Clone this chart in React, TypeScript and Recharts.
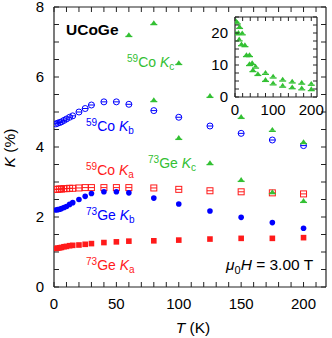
import React from 'react';
import { ScatterChart, Scatter, XAxis, YAxis } from 'recharts';

// ---------- data ----------
const T_LOW = [1.5, 3, 4.5, 6, 8, 10, 12.5, 15, 20, 25, 30, 40, 50, 60, 80, 100, 125, 150, 175, 200];
const CO59_KB = [4.66, 4.68, 4.7, 4.72, 4.76, 4.8, 4.85, 4.89, 5.0, 5.1, 5.2, 5.29, 5.29, 5.22, 5.04, 4.85, 4.6, 4.39, 4.2, 4.04];
const GE73_KB = [2.2, 2.21, 2.22, 2.24, 2.27, 2.3, 2.36, 2.41, 2.5, 2.59, 2.67, 2.72, 2.72, 2.69, 2.54, 2.37, 2.17, 1.99, 1.84, 1.68];
const CO59_KA = [2.79, 2.79, 2.8, 2.8, 2.81, 2.81, 2.82, 2.82, 2.83, 2.84, 2.84, 2.84, 2.84, 2.84, 2.83, 2.79, 2.75, 2.72, 2.69, 2.66];
const GE73_KA = [1.1, 1.11, 1.12, 1.13, 1.15, 1.16, 1.18, 1.19, 1.2, 1.22, 1.24, 1.27, 1.29, 1.31, 1.32, 1.34, 1.37, 1.39, 1.39, 1.41];

const T_CO_KC = [80, 100, 125, 150, 175, 200];
const CO59_KC = [7.54, 6.4, 5.46, 4.86, 4.49, 4.14];
const T_GE_KC = [60, 80, 100, 125, 150, 175, 200];
const GE73_KC = [7.2, 5.34, 4.26, 3.54, 3.06, 2.71, 2.46];

// inset (full range of K_c)
const T_INSET_CO = [2, 6, 12, 19, 26, 38, 45, 54, 80, 100, 125, 150, 175, 200];
const INSET_CO59_KC = [23.8, 23.3, 21.9, 19.9, 16.2, 13.1, 10.6, 9.5, 7.54, 6.4, 5.46, 4.86, 4.49, 4.14];
const T_INSET_GE = [2, 9, 11, 17, 30, 38, 47, 60, 80, 100, 125, 150, 175, 200];
const INSET_GE73_KC = [19.9, 20.1, 18.0, 16.5, 13.1, 10.3, 8.4, 7.2, 5.34, 4.26, 3.54, 3.06, 2.71, 2.46];

// ticks
const X_TICKS = Array.from({ length: 22 }, (_, i) => i * 10);
const X_LABELS = [0, 50, 100, 150, 200];
const Y_TICKS = Array.from({ length: 17 }, (_, i) => i * 0.5);
const Y_LABELS = [0, 2, 4, 6, 8];
const IX_TICKS = Array.from({ length: 11 }, (_, i) => i * 20);
const IX_LABELS = [0, 100, 200];
const IY_TICKS = Array.from({ length: 11 }, (_, i) => i * 2.5);
const IY_LABELS = [0, 10, 20];

// ---------- styles ----------
const GREEN = '#33c033';
const BLUE = '#0000ff';
const RED = '#ff1a1a';
const AXIS = '#222';
const FONT = '"Liberation Sans", Arial, Helvetica, sans-serif';

const pts = (xs: number[], ys: number[]) => xs.map((x, i) => ({ x, y: ys[i] }));

// ---------- marker shapes ----------
const OpenCircleBar = (p: any) => (
  <g>
    <circle cx={p.cx} cy={p.cy} r={3} fill="none" stroke={BLUE} strokeWidth={1} />
    <line x1={p.cx - 3} x2={p.cx + 3} y1={p.cy} y2={p.cy} stroke={BLUE} strokeWidth={1} />
  </g>
);
const FilledCircle = (p: any) => <circle cx={p.cx} cy={p.cy} r={2.8} fill={BLUE} />;
const OpenSquareBar = (p: any) => (
  <g>
    <rect x={p.cx - 3} y={p.cy - 3} width={6} height={6} fill="none" stroke={RED} strokeWidth={1} />
    <line x1={p.cx - 3} x2={p.cx + 3} y1={p.cy} y2={p.cy} stroke={RED} strokeWidth={1} />
  </g>
);
const FilledSquare = (p: any) => <rect x={p.cx - 2.8} y={p.cy - 2.8} width={5.6} height={5.6} fill={RED} />;
const TriBar = (p: any) => (
  <g>
    <path d={`M${p.cx - 2.6},${p.cy + 1} L${p.cx + 2.6},${p.cy + 1} L${p.cx},${p.cy - 2.8} Z`} fill={GREEN} />
    <line x1={p.cx - 3.5} x2={p.cx + 3.5} y1={p.cy + 1.5} y2={p.cy + 1.5} stroke={GREEN} strokeWidth={1.3} />
  </g>
);

// ---------- tick renderers ----------
const mkBottom = (labels: number[], len: number, dy: number, fs: number) => (p: any) => {
  const v = p.payload.value;
  return (
    <g>
      <line x1={p.x} x2={p.x} y1={p.y} y2={p.y - len} stroke={AXIS} strokeWidth={1} />
      {labels.includes(v) && (
        <text x={p.x} y={p.y + dy} textAnchor="middle" fontFamily={FONT} fontSize={fs} fill="#000">{v}</text>
      )}
    </g>
  );
};
const mkTop = (len: number) => (p: any) => (
  <line x1={p.x} x2={p.x} y1={p.y} y2={p.y + len} stroke={AXIS} strokeWidth={1} />
);
const mkLeft = (labels: number[], len: number, dx: number, fs: number) => (p: any) => {
  const v = p.payload.value;
  return (
    <g>
      <line x1={p.x} x2={p.x + len} y1={p.y} y2={p.y} stroke={AXIS} strokeWidth={1} />
      {labels.includes(v) && (
        <text x={p.x - dx} y={p.y + fs * 0.36} textAnchor="end" fontFamily={FONT} fontSize={fs} fill="#000">{v}</text>
      )}
    </g>
  );
};
const mkRight = (len: number) => (p: any) => (
  <line x1={p.x} x2={p.x - len} y1={p.y} y2={p.y} stroke={AXIS} strokeWidth={1} />
);

const axisCommon = {
  type: 'number' as const,
  allowDataOverflow: true,
  tickLine: false,
  tickSize: 0,
  tickMargin: 0,
  interval: 0 as const,
  axisLine: { stroke: AXIS, strokeWidth: 1.2 },
};

const MainChart = () => (
  <ScatterChart width={332} height={338} margin={{ top: 6, right: 5, bottom: 21, left: 14 }}>
    <XAxis xAxisId="b" dataKey="x" domain={[0, 218]} ticks={X_TICKS} height={30} tick={mkBottom(X_LABELS, 5, 22, 15)} {...axisCommon} />
    <XAxis xAxisId="t" orientation="top" dataKey="x" domain={[0, 218]} ticks={X_TICKS} height={1} tick={mkTop(5)} {...axisCommon} />
    <YAxis yAxisId="l" dataKey="y" domain={[0, 8]} ticks={Y_TICKS} width={40} tick={mkLeft(Y_LABELS, 5, 10, 15)} {...axisCommon} />
    <YAxis yAxisId="r" orientation="right" dataKey="y" domain={[0, 8]} ticks={Y_TICKS} width={1} tick={mkRight(5)} {...axisCommon} />
    <Scatter xAxisId="b" yAxisId="l" data={pts(T_LOW, GE73_KA)} shape={FilledSquare} isAnimationActive={false} />
    <Scatter xAxisId="b" yAxisId="l" data={pts(T_LOW, CO59_KA)} shape={OpenSquareBar} isAnimationActive={false} />
    <Scatter xAxisId="b" yAxisId="l" data={pts(T_LOW, GE73_KB)} shape={FilledCircle} isAnimationActive={false} />
    <Scatter xAxisId="b" yAxisId="l" data={pts(T_LOW, CO59_KB)} shape={OpenCircleBar} isAnimationActive={false} />
    <Scatter xAxisId="b" yAxisId="l" data={pts(T_GE_KC, GE73_KC)} shape={TriBar} isAnimationActive={false} />
    <Scatter xAxisId="b" yAxisId="l" data={pts(T_CO_KC, CO59_KC)} shape={TriBar} isAnimationActive={false} />
  </ScatterChart>
);

const InsetChart = () => (
  <ScatterChart width={125} height={115} margin={{ top: 11, right: 12, bottom: 3, left: 5 }}>
    <XAxis xAxisId="b" dataKey="x" domain={[0, 215]} ticks={IX_TICKS} height={20} tick={mkBottom(IX_LABELS, 4, 18, 15)} {...axisCommon} />
    <XAxis xAxisId="t" orientation="top" dataKey="x" domain={[0, 215]} ticks={IX_TICKS} height={1} tick={mkTop(4)} {...axisCommon} />
    <YAxis yAxisId="l" dataKey="y" domain={[0, 25]} ticks={IY_TICKS} width={25} tick={mkLeft(IY_LABELS, 4, 7, 15)} {...axisCommon} />
    <YAxis yAxisId="r" orientation="right" dataKey="y" domain={[0, 25]} ticks={IY_TICKS} width={1} tick={mkRight(4)} {...axisCommon} />
    <Scatter xAxisId="b" yAxisId="l" data={pts(T_INSET_GE, INSET_GE73_KC)} shape={TriBar} isAnimationActive={false} />
    <Scatter xAxisId="b" yAxisId="l" data={pts(T_INSET_CO, INSET_CO59_KC)} shape={TriBar} isAnimationActive={false} />
  </ScatterChart>
);

const Label = ({ x, y, color, sup, base, sub }: any) => (
  <text x={x} y={y} fill={color} fontFamily={FONT} fontSize={14}>
    <tspan fontSize={10} dy={-5}>{sup}</tspan>
    <tspan dy={5}>{base} </tspan>
    <tspan fontStyle="italic">K</tspan>
    <tspan fontSize={10} dy={3}>{sub}</tspan>
  </text>
);

const Annotations = () => (
  <svg width={332} height={338} style={{ position: 'absolute', left: 0, top: 0, pointerEvents: 'none' }}>
    <text x={66} y={35} fontFamily={FONT} fontSize={15.5} fontWeight="bold" fill="#000">UCoGe</text>
    <Label x={127} y={67} color={GREEN} sup="59" base="Co" sub="c" />
    <Label x={86} y={131} color={BLUE} sup="59" base="Co" sub="b" />
    <Label x={148} y={168} color={GREEN} sup="73" base="Ge" sub="c" />
    <Label x={86} y={175} color={RED} sup="59" base="Co" sub="a" />
    <Label x={86} y={220} color={BLUE} sup="73" base="Ge" sub="b" />
    <Label x={86} y={270} color={RED} sup="73" base="Ge" sub="a" />
    <text x={226} y={270} fontFamily={FONT} fontSize={15.5} fill="#000">
      <tspan fontStyle="italic">μ</tspan>
      <tspan fontSize={11} dy={4}>0</tspan>
      <tspan fontStyle="italic" dy={-4}>H</tspan>
      <tspan> = 3.00 T</tspan>
    </text>
    <text x={193} y={333} textAnchor="middle" fontFamily={FONT} fontSize={15.5} fill="#000">
      <tspan fontStyle="italic">T</tspan> (K)
    </text>
    <text x={0} y={0} transform="translate(15,148) rotate(-90)" textAnchor="middle" fontFamily={FONT} fontSize={15.5} fill="#000">
      <tspan fontStyle="italic">K</tspan> (%)
    </text>
  </svg>
);

export default function App() {
  return (
    <div style={{ position: 'absolute', left: 0, top: 0, width: 332, height: 338, background: '#fff', overflow: 'hidden' }}>
      <MainChart />
      <div style={{ position: 'absolute', left: 205, top: 5 }}>
        <InsetChart />
      </div>
      <Annotations />
    </div>
  );
}
